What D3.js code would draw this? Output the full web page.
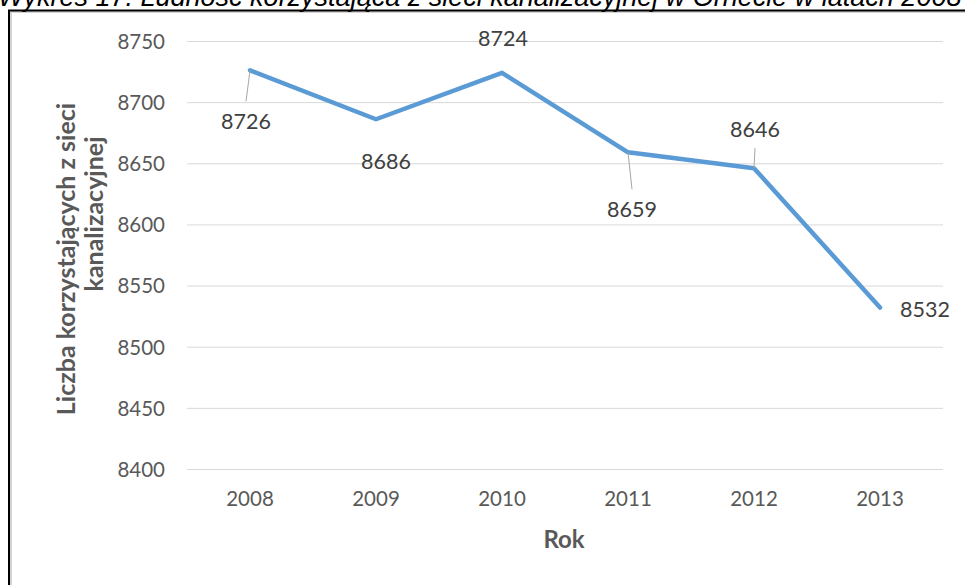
<!DOCTYPE html>
<html>
<head>
<meta charset="utf-8">
<script src="https://cdn.jsdelivr.net/npm/d3@7"></script>
<style>
  html, body { margin: 0; padding: 0; background: #fff; overflow: hidden; }
  svg { display: block; }
</style>
</head>
<body>
<svg id="chart"></svg>
<script>
// data
const years = ['2008', '2009', '2010', '2011', '2012', '2013'];
const users = [8726, 8686, 8724, 8659, 8646, 8532];
const yTicks = [8400, 8450, 8500, 8550, 8600, 8650, 8700, 8750];

const titleText = 'Wykres 17. Ludność korzystająca z sieci kanalizacyjnej w Ornecie w latach 2008–2013';
const yTitleLines = ['Liczba korzystających z sieci', 'kanalizacyjnej'];
const xTitle = 'Rok';

const W = 965, H = 585;

// plot area
const margin = { top: 41, right: 22, bottom: 116, left: 187 };
const innerW = W - margin.left - margin.right;
const innerH = H - margin.top - margin.bottom;

// where each data label sits relative to its point (dx, dy in px), and if it has a leader line
const labelPlace = [
  { dx: -4, dy: 59, anchor: 'middle', leader: 31 },
  { dx: 10, dy: 50, anchor: 'middle', leader: 0 },
  { dx: 1, dy: -27, anchor: 'middle', leader: 0 },
  { dx: 4, dy: 65, anchor: 'middle', leader: 37 },
  { dx: 1, dy: -31, anchor: 'middle', leader: -20 },
  { dx: 20, dy: 9, anchor: 'start', leader: 0 },
];

const svg = d3.select('#chart')
  .attr('width', W)
  .attr('height', H);

svg.append('rect')
  .attr('width', W)
  .attr('height', H)
  .attr('fill', '#fff');

// frame of the chart object (runs off the right and bottom edges)
svg.append('rect')
  .attr('x', 11)
  .attr('y', 12)
  .attr('width', W + 20)
  .attr('height', H + 20)
  .attr('fill', 'none')
  .attr('stroke', '#d4d4d4')
  .attr('stroke-width', 2);
svg.append('rect')
  .attr('x', 9)
  .attr('y', 10.5)
  .attr('width', W + 20)
  .attr('height', H + 20)
  .attr('fill', 'none')
  .attr('stroke', '#000')
  .attr('stroke-width', 2);

// caption above the frame, its top is cut by the window as in the source
svg.append('text')
  .attr('x', -2)
  .attr('y', 6)
  .attr('font-family', '"Liberation Sans", Arial, sans-serif')
  .attr('font-style', 'italic')
  .attr('font-size', 27)
  .attr('fill', '#000')
  .text(titleText);

const g = svg.append('g')
  .attr('transform', `translate(${margin.left},${margin.top})`);

const x = d3.scaleBand()
  .domain(years)
  .range([0, innerW])
  .padding(0);

const y = d3.scaleLinear()
  .domain([8400, 8750])
  .range([innerH, 0]);

// gridlines + y labels
const yAxis = d3.axisLeft(y)
  .tickValues(yTicks)
  .tickSize(-innerW)
  .tickPadding(22)
  .tickFormat(d3.format('d'));

g.append('g')
  .attr('class', 'y axis')
  .call(yAxis)
  .call(sel => sel.select('.domain').remove())
  .call(sel => sel.selectAll('line').attr('stroke', '#d9d9d9').attr('stroke-width', 1))
  .call(sel => sel.selectAll('text')
    .attr('fill', '#595959')
    .attr('font-family', 'Lato, "Open Sans", sans-serif')
    .attr('font-size', 20.5)
    .attr('dy', '0.36em'));

// x labels
const xAxis = d3.axisBottom(x)
  .tickSize(0)
  .tickPadding(22);

g.append('g')
  .attr('class', 'x axis')
  .attr('transform', `translate(0,${innerH})`)
  .call(xAxis)
  .call(sel => sel.select('.domain').remove())
  .call(sel => sel.selectAll('text')
    .attr('fill', '#595959')
    .attr('font-family', 'Lato, "Open Sans", sans-serif')
    .attr('font-size', 20.5)
    .attr('dy', '0.71em'));

const cx = (d, i) => x(years[i]) + x.bandwidth() / 2;

// the line
const line = d3.line()
  .x((d, i) => cx(d, i))
  .y(d => y(d));

g.append('path')
  .datum(users)
  .attr('class', 'data line')
  .attr('d', line)
  .attr('fill', 'none')
  .attr('stroke', '#5b9bd5')
  .attr('stroke-width', 4.5)
  .attr('stroke-linejoin', 'round')
  .attr('stroke-linecap', 'round');

// leader lines
g.selectAll('.leader')
  .data(users.map((v, i) => ({ v, i, p: labelPlace[i] })).filter(d => d.p.leader !== 0))
  .enter()
  .append('line')
  .attr('class', 'leader')
  .attr('x1', d => cx(d.v, d.i))
  .attr('y1', d => y(d.v))
  .attr('x2', d => cx(d.v, d.i) + d.p.dx)
  .attr('y2', d => y(d.v) + d.p.leader)
  .attr('stroke', '#a6a6a6')
  .attr('stroke-width', 1);

// data labels
g.selectAll('.value.label')
  .data(users)
  .enter()
  .append('text')
  .attr('class', 'value label')
  .attr('x', (d, i) => cx(d, i) + labelPlace[i].dx)
  .attr('y', (d, i) => y(d) + labelPlace[i].dy)
  .attr('text-anchor', (d, i) => labelPlace[i].anchor)
  .attr('fill', '#404040')
  .attr('font-family', 'Lato, "Open Sans", sans-serif')
  .attr('font-size', 21.5)
  .text(d => d);

// axis titles
svg.append('text')
  .attr('x', margin.left + innerW / 2 - 1)
  .attr('y', 548)
  .attr('text-anchor', 'middle')
  .attr('fill', '#595959')
  .attr('font-family', 'Lato, "Open Sans", sans-serif')
  .attr('font-weight', 'bold')
  .attr('font-size', 24)
  .text(xTitle);

const yTitle = svg.append('g')
  .attr('fill', '#595959')
  .attr('font-family', 'Lato, "Open Sans", sans-serif')
  .attr('font-weight', 'bold')
  .attr('font-size', 25)
  .attr('text-anchor', 'middle');

yTitle.append('text')
  .attr('transform', 'translate(75,259) rotate(-90)')
  .text(yTitleLines[0]);
yTitle.append('text')
  .attr('transform', 'translate(103,214) rotate(-90)')
  .text(yTitleLines[1]);
</script>
</body>
</html>
